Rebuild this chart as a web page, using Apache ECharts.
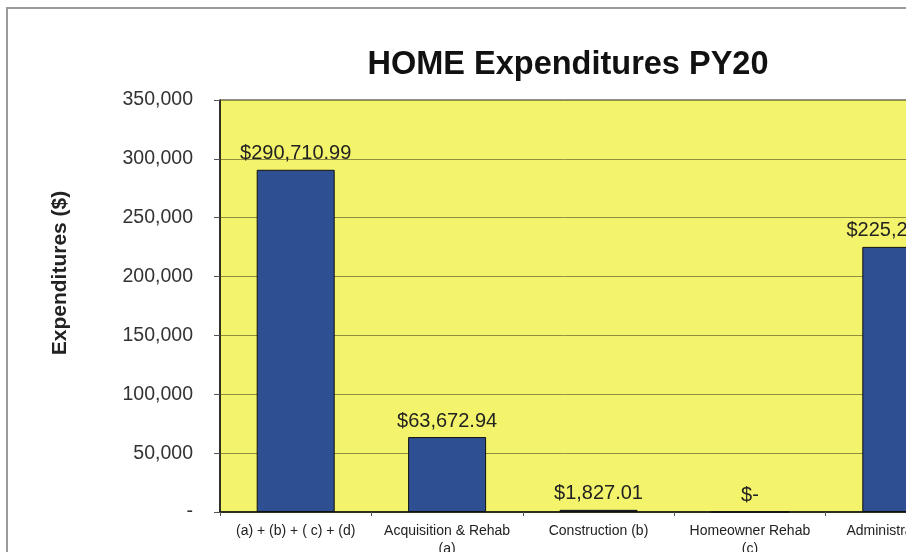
<!DOCTYPE html>
<html>
<head>
<meta charset="utf-8">
<script src="https://cdn.jsdelivr.net/npm/echarts@6/dist/echarts.min.js"></script>
<style>
html,body{margin:0;padding:0;background:#fff;}
#chart{width:906px;height:552px;}
</style>
</head>
<body>
<div id="chart"></div>
<script>
var categories = ['(a) + (b) + ( c) + (d)', 'Acquisition & Rehab\n(a)', 'Construction (b)', 'Homeowner Rehab\n(c)', 'Administration (d)'];
var expenditures = [290710.99, 63672.94, 1827.01, 0, 225211.04];
var yTicks = [0, 50000, 100000, 150000, 200000, 250000, 300000, 350000];
var yAxisTitle = 'Expenditures ($)';

var chart = echarts.init(document.getElementById('chart'));
var option = {
  backgroundColor: '#ffffff',
  animation: false,
  title: {
    text: 'HOME Expenditures PY20',
    left: 563,
    textAlign: 'center',
    top: 44,
    textStyle: { fontFamily: 'Liberation Sans', fontWeight: 'bold', fontSize: 32.5, color: '#111' }
  },
  graphic: [{
    type: 'rect',
    z: -10,
    shape: { x: 7, y: 8, width: 1100, height: 700 },
    style: { fill: 'none', stroke: '#9a9a9a', lineWidth: 2 }
  }, {
    type: 'text',
    x: 60, y: 273,
    rotation: Math.PI / 2,
    style: {
      text: yAxisTitle, align: 'center', verticalAlign: 'middle',
      font: 'bold 21px "Liberation Sans"', fill: '#222'
    }
  }],
  grid: {
    left: 220, top: 100, right: -71, bottom: 40,
    outerBoundsMode: 'none',
    containLabel: false,
    show: true, backgroundColor: '#F4F46C', borderColor: '#222', borderWidth: 1
  },
  xAxis: {
    type: 'category',
    data: categories,
    axisLine: { lineStyle: { color: '#111', width: 1.5 } },
    axisTick: { show: true, length: 4, lineStyle: { color: '#555' } },
    axisLabel: { margin: 10, fontFamily: 'Liberation Sans', fontSize: 14, color: '#222', lineHeight: 18, interval: 0 }
  },
  yAxis: {
    type: 'value',
    min: yTicks[0], max: yTicks[yTicks.length - 1], interval: 50000,
    axisLine: { show: true, lineStyle: { color: '#111', width: 1.5 } },
    axisTick: { show: true, length: 6, lineStyle: { color: '#555' } },
    splitLine: { lineStyle: { color: '#8E8E3E', width: 1 } },
    axisLabel: {
      margin: 27,
      fontFamily: 'Liberation Sans', fontSize: 19.5, color: '#333',
      formatter: function (v) { return v === 0 ? '-' : v.toLocaleString('en-US'); }
    }
  },
  series: [{
    type: 'bar',
    data: expenditures,
    barWidth: 78,
    itemStyle: { color: '#2E4F91', borderColor: '#111', borderWidth: 1 },
    label: {
      show: true, position: 'top', distance: 6,
      fontFamily: 'Liberation Sans', fontSize: 20, color: '#222',
      formatter: function (p) {
        return p.value === 0 ? '$-' : '$' + p.value.toLocaleString('en-US', { minimumFractionDigits: 2, maximumFractionDigits: 2 });
      }
    }
  }]
};
chart.setOption(option);
</script>
</body>
</html>
